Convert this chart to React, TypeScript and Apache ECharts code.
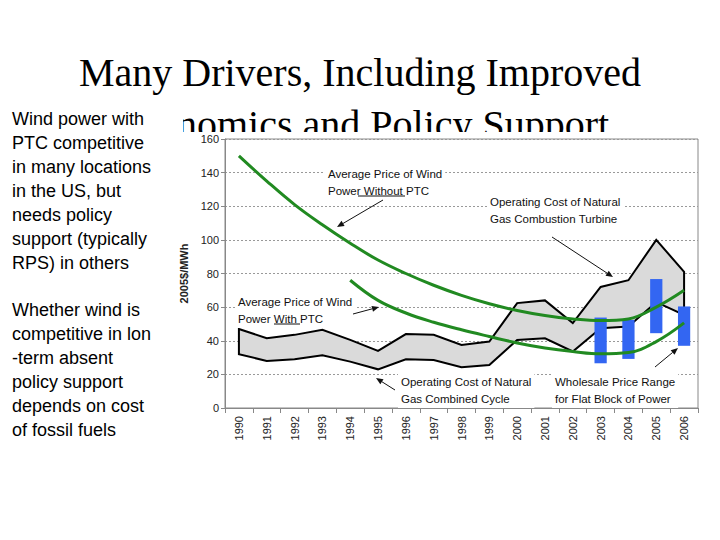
import React, { useEffect, useRef } from "react";
import * as echarts from "echarts";

const years = ["1990","1991","1992","1993","1994","1995","1996","1997","1998","1999","2000","2001","2002","2003","2004","2005","2006"];
const windNoPTC = [150, 135, 121, 109, 98, 88, 80, 73, 67, 62, 58, 55, 53, 52, 53, 60, 70];
const windPTC = [null, null, null, null, 76, 64, 56.5, 51, 46.5, 42.5, 38.7, 35.7, 33.6, 32.2, 33, 39.5, 50.6];
const gasCT = [47, 41.5, 43.5, 46.5, 40.5, 34, 44, 43.5, 37.5, 39.5, 62.4, 64, 50.5, 72, 76, 100, 81];
const gasCC = [32, 28, 29, 31.4, 27.6, 23, 29, 28.6, 24.2, 25.6, 40.5, 41.5, 33.6, 47.5, 48.5, 63, 55.4];
const wholesaleYears = ["2003", "2004", "2005", "2006"];
const wholesaleLow = [26.6, 29.2, 44.5, 37];
const wholesaleHigh = [53.8, 52.4, 76.7, 60.4];
const yTicks = { min: 0, max: 160, interval: 20 };

const SANS = "'Liberation Sans', Arial, sans-serif";
const SERIF = "'Liberation Serif', 'Times New Roman', serif";

function arrow(x1: number, y1: number, x2: number, y2: number) {
  const a = Math.atan2(y2 - y1, x2 - x1);
  const L = 7, W = 3;
  const bx = x2 - L * Math.cos(a), by = y2 - L * Math.sin(a);
  const px = -Math.sin(a) * W, py = Math.cos(a) * W;
  return {
    type: "group",
    z: 20,
    children: [
      { type: "line", z: 20, shape: { x1, y1, x2: bx, y2: by }, style: { stroke: "#111", lineWidth: 1 } },
      { type: "polygon", z: 20, shape: { points: [[x2, y2], [bx + px, by + py], [bx - px, by - py]] }, style: { fill: "#111" } },
    ],
  };
}

function note(text: string, x: number, y: number) {
  return {
    type: "text",
    z: 15,
    style: {
      text,
      x,
      y,
      fontFamily: SANS,
      fontSize: 11.5,
      lineHeight: 17,
      fill: "#111",
      backgroundColor: "#fff",
      padding: [1, 3],
      verticalAlign: "top",
    },
  };
}

export default function App() {
  const ref = useRef<HTMLDivElement>(null);
  useEffect(() => {
    const chart = echarts.init(ref.current!, null, { renderer: "svg" });
    const option: any = {
      animation: false,
      backgroundColor: "#fff",
      grid: { left: 225, right: 22, top: 139, bottom: 132, z: 2, show: true, borderColor: "#888", borderWidth: 1, backgroundColor: "transparent" },
      xAxis: {
        type: "category",
        z: 2,
        data: years,
        boundaryGap: true,
        axisLine: { lineStyle: { color: "#888" } },
        axisTick: { show: true, interval: 0, length: 5, lineStyle: { color: "#888" } },
        axisLabel: { interval: 0, rotate: 90, fontSize: 11, color: "#222", fontFamily: SANS, margin: 8 },
        splitLine: { show: false },
      },
      yAxis: {
        type: "value",
        z: 2,
        min: yTicks.min,
        max: yTicks.max,
        interval: yTicks.interval,
        name: "2005$/MWh",
        nameLocation: "middle",
        nameGap: 34,
        nameTextStyle: { fontSize: 11, fontWeight: "bold", color: "#222", fontFamily: SANS },
        axisLine: { show: true, lineStyle: { color: "#888" } },
        axisTick: { show: true, length: 4, lineStyle: { color: "#888" } },
        axisLabel: { fontSize: 11, color: "#222", fontFamily: SANS, margin: 6 },
        splitLine: { show: true, lineStyle: { type: [2, 2], color: "#999", width: 1 } },
      },
      series: [
        {
          type: "custom",
          name: "Gas operating cost band",
          z: 3,
          data: [[0, gasCT[0]]],
          renderItem: (params: any, api: any) => {
            const pts: number[][] = [];
            for (let i = 0; i < years.length; i++) pts.push(api.coord([i, gasCT[i]]));
            for (let i = years.length - 1; i >= 0; i--) pts.push(api.coord([i, gasCC[i]]));
            return {
              type: "polygon",
              shape: { points: pts },
              style: { fill: "#dadada", stroke: "#000", lineWidth: 2, lineJoin: "miter" },
            };
          },
        },
        {
          type: "custom",
          name: "Wholesale Price Range",
          z: 4,
          encode: { x: 0, y: [1, 2] },
          data: wholesaleYears.map((y, i) => [years.indexOf(y), wholesaleLow[i], wholesaleHigh[i]]),
          renderItem: (params: any, api: any) => {
            const x = api.value(0);
            const lo = api.coord([x, api.value(1)]);
            const hi = api.coord([x, api.value(2)]);
            const w = api.size([1, 0])[0] * 0.44;
            return {
              type: "rect",
              shape: { x: lo[0] - w / 2, y: hi[1], width: w, height: lo[1] - hi[1] },
              style: { fill: "#3366f2" },
            };
          },
        },
        {
          type: "line",
          name: "Average Price of Wind Power Without PTC",
          z: 5,
          data: windNoPTC,
          smooth: 0.4,
          showSymbol: false,
          lineStyle: { color: "#218a21", width: 3 },
        },
        {
          type: "line",
          name: "Average Price of Wind Power With PTC",
          z: 5,
          data: windPTC,
          smooth: 0.4,
          showSymbol: false,
          connectNulls: false,
          lineStyle: { color: "#218a21", width: 3 },
        },
      ],
      graphic: [
        { type: "text", z: 0, style: { text: "Many Drivers, Including Improved", x: 360, y: 72, textAlign: "center", verticalAlign: "middle", fontFamily: SERIF, fontSize: 40, fill: "#000" } },
        { type: "text", z: 0, style: { text: "Economics and Policy Support", x: 362, y: 124, textAlign: "center", verticalAlign: "middle", fontFamily: SERIF, fontSize: 40, fill: "#000" } },
        { type: "rect", z: 1, shape: { x: 0, y: 100, width: 183, height: 440 }, style: { fill: "#fff" } },
        { type: "rect", z: 1, shape: { x: 183, y: 132, width: 537, height: 408 }, style: { fill: "#fff" } },
        { type: "text", z: 5, style: { text: "Wind power with\nPTC competitive\nin many locations\nin the US, but\nneeds policy\nsupport (typically\nRPS) in others", x: 12, y: 107, lineHeight: 24, fontFamily: SANS, fontSize: 18, fill: "#000", verticalAlign: "top" } },
        { type: "text", z: 5, style: { text: "Whether wind is\ncompetitive in lon\n-term absent\npolicy support\ndepends on cost\nof fossil fuels", x: 12, y: 298, lineHeight: 24, fontFamily: SANS, fontSize: 18, fill: "#000", verticalAlign: "top" } },
        note("Average Price of Wind\nPower Without PTC", 325, 164),
        { type: "line", z: 16, shape: { x1: 358, y1: 196, x2: 405, y2: 196 }, style: { stroke: "#111", lineWidth: 1 } },
        arrow(383, 200, 337, 227),
        note("Operating Cost of Natural\nGas Combustion Turbine", 487, 192),
        arrow(552, 237, 613, 277),
        note("Average Price of Wind\nPower With PTC", 235, 292),
        { type: "line", z: 16, shape: { x1: 274, y1: 324, x2: 300, y2: 324 }, style: { stroke: "#111", lineWidth: 1 } },
        arrow(353, 314, 379, 307),
        note("Operating Cost of Natural\nGas Combined Cycle", 398, 372),
        arrow(395, 390, 376, 378),
        note("Wholesale Price Range\nfor Flat Block of Power", 552, 372),
        arrow(655, 367, 678, 348),
      ],
    };
    chart.setOption(option);
    return () => chart.dispose();
  }, []);
  return <div ref={ref} style={{ position: "absolute", left: 0, top: 0, width: 720, height: 540 }} />;
}
